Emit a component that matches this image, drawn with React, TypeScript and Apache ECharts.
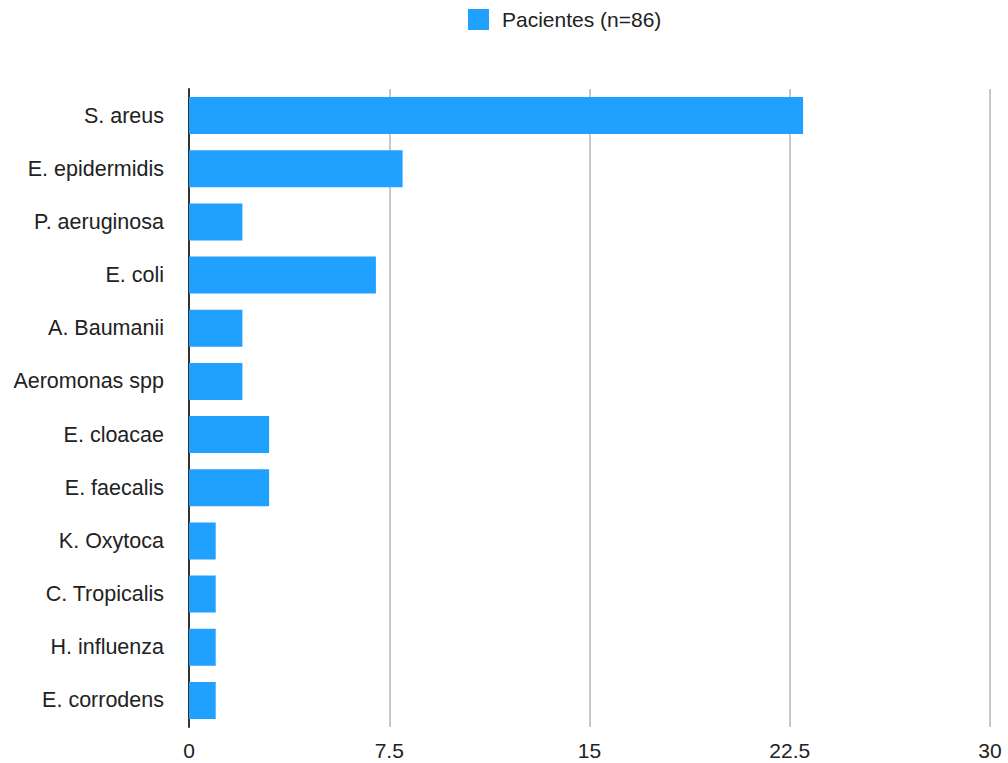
import React, { useEffect, useRef } from "react";
import * as echarts from "echarts";

const categories = [
  "S. areus",
  "E. epidermidis",
  "P. aeruginosa",
  "E. coli",
  "A. Baumanii",
  "Aeromonas spp",
  "E. cloacae",
  "E. faecalis",
  "K. Oxytoca",
  "C. Tropicalis",
  "H. influenza",
  "E. corrodens",
];
const values = [23, 8, 2, 7, 2, 2, 3, 3, 1, 1, 1, 1];
const seriesName = "Pacientes (n=86)";
const xTicks = [0, 7.5, 15, 22.5, 30];

export default function App() {
  const ref = useRef<HTMLDivElement>(null);
  useEffect(() => {
    const chart = echarts.init(ref.current!, null, { renderer: "svg" });
    const font = "'Liberation Sans', Helvetica, Arial, sans-serif";
    chart.setOption({
      animation: false,
      textStyle: { fontFamily: font },
      legend: {
        top: 9,
        left: 468,
        padding: 0,
        itemWidth: 21,
        itemHeight: 21,
        itemGap: 10,
        icon: "rect",
        textStyle: { fontSize: 21, color: "#222", fontFamily: font, padding: [0, 0, 0, 8] },
        data: [seriesName],
      },
      grid: { left: 189, right: 18, top: 89, bottom: 36, containLabel: false },
      xAxis: {
        type: "value",
        min: xTicks[0],
        max: xTicks[xTicks.length - 1],
        interval: 7.5,
        axisLine: { show: false },
        axisTick: { show: false },
        axisLabel: { fontSize: 21, color: "#222", margin: 13, fontFamily: font },
        splitLine: { show: true, lineStyle: { color: "#c8c8c8", width: 2 } },
      },
      yAxis: {
        type: "category",
        data: categories,
        inverse: true,
        axisLine: { show: true, lineStyle: { color: "#333", width: 2 } },
        axisTick: { show: false },
        axisLabel: { fontSize: 21.5, color: "#222", margin: 25, fontFamily: font },
      },
      series: [
        {
          name: seriesName,
          type: "bar",
          data: values,
          barWidth: 37,
          itemStyle: { color: "#20a0ff" },
        },
      ],
    });
    return () => chart.dispose();
  }, []);
  return (
    <div
      ref={ref}
      style={{ position: "fixed", left: 0, top: 0, width: 1008, height: 763, background: "#fff" }}
    />
  );
}
